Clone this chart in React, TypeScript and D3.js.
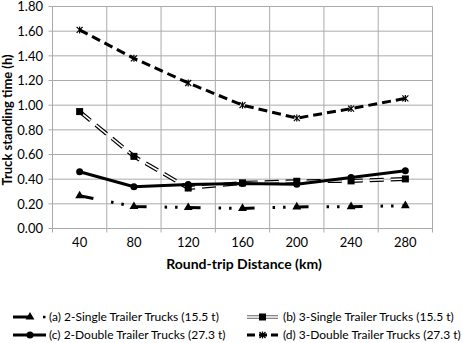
import React from "react";
import * as d3 from "d3";

const categories = ["40", "80", "120", "160", "200", "240", "280"];
const seriesA = [0.265, 0.178, 0.17, 0.163, 0.175, 0.177, 0.185];
const seriesB = [0.948, 0.585, 0.328, 0.37, 0.383, 0.386, 0.402];
const seriesC = [0.46, 0.338, 0.357, 0.365, 0.358, 0.413, 0.468];
const seriesD = [1.61, 1.38, 1.18, 1.0, 0.895, 0.972, 1.055];
const yTicks = [0, 0.2, 0.4, 0.6, 0.8, 1.0, 1.2, 1.4, 1.6, 1.8];
const legendLabels = [
  "(a) 2-Single Trailer Trucks (15.5 t)",
  "(b) 3-Single Trailer Trucks (15.5 t)",
  "(c) 2-Double Trailer Trucks (27.3 t)",
  "(d) 3-Double Trailer Trucks (27.3 t)",
];

const FONT = "Lato, 'Open Sans', sans-serif";
const GRID = "#aaaaaa";

function Marker({ kind, x, y }: { kind: string; x: number; y: number }) {
  if (kind === "tri")
    return <path d={d3.symbol(d3.symbolTriangle, 34)()!} transform={`translate(${x},${y})`} fill="#000" />;
  if (kind === "sq") return <rect x={x - 3.5} y={y - 3.5} width={7} height={7} fill="#000" />;
  if (kind === "circ") return <circle cx={x} cy={y} r={3.5} fill="#000" />;
  return (
    <g stroke="#000" strokeWidth={1.2}>
      <line x1={x - 3} y1={y - 3} x2={x + 3} y2={y + 3} />
      <line x1={x - 3} y1={y + 3} x2={x + 3} y2={y - 3} />
      <line x1={x} y1={y - 3.5} x2={x} y2={y + 3.5} />
    </g>
  );
}

export default function App() {
  const W = 463, H = 343;
  const x = d3.scaleBand().domain(categories).range([52.5, 432.5]).padding(0);
  const y = d3.scaleLinear().domain([0, 1.8]).range([228.5, 6.5]);
  const cx = (c: string) => (x(c) as number) + x.bandwidth() / 2;
  const line = d3.line<number>().x((_, i) => cx(categories[i])).y((d) => y(d));
  const r1 = 317, r2 = 335;

  return (
    <svg width={W} height={H} style={{ position: "absolute", left: 0, top: 0, background: "#fff" }} fontFamily={FONT}>
      {/* grid */}
      {yTicks.map((t) => (
        <line key={t} x1={48.5} x2={432.5} y1={y(t)} y2={y(t)} stroke={GRID} strokeWidth={1} />
      ))}
      {categories.map((c) => (
        <line key={c} x1={x(c)} x2={x(c)} y1={y(1.8)} y2={y(0) + 4} stroke={GRID} strokeWidth={1} />
      ))}
      <line x1={432.5} x2={432.5} y1={y(1.8)} y2={y(0) + 4} stroke={GRID} strokeWidth={1} />
      {/* y labels */}
      {yTicks.map((t) => (
        <text key={t} x={43} y={y(t)} dy="0.36em" textAnchor="end" fontSize={13} fill="#000">
          {t.toFixed(2)}
        </text>
      ))}
      {categories.map((c) => (
        <text key={c} x={cx(c)} y={247} textAnchor="middle" fontSize={13} fill="#000">
          {c}
        </text>
      ))}
      <text x={244} y={269} textAnchor="middle" fontSize={14} fontWeight="bold" fill="#000">
        Round-trip Distance (km)
      </text>
      <text transform={`translate(12,${y(0.88)}) rotate(-90)`} textAnchor="middle" fontSize={13} fontWeight="bold" fill="#000">
        Truck standing time  (h)
      </text>

      {/* series D */}
      <path d={line(seriesD)!} fill="none" stroke="#000" strokeWidth={3} strokeDasharray="9 5" />
      {seriesD.map((v, i) => <Marker key={i} kind="x" x={cx(categories[i])} y={y(v)} />)}
      {/* series B double line */}
      <path d={line(seriesB)!} fill="none" stroke="#000" strokeWidth={4} strokeDasharray="14 7" />
      <path d={line(seriesB)!} fill="none" stroke="#fff" strokeWidth={1.6} strokeDasharray="14 7" />
      {seriesB.map((v, i) => <Marker key={i} kind="sq" x={cx(categories[i])} y={y(v)} />)}
      {/* series C */}
      <path d={line(seriesC)!} fill="none" stroke="#000" strokeWidth={3} />
      {seriesC.map((v, i) => <Marker key={i} kind="circ" x={cx(categories[i])} y={y(v)} />)}
      {/* series A */}
      <path d={line(seriesA)!} fill="none" stroke="#000" strokeWidth={3} strokeDasharray="14 18 2.5 8 2.5 9" />
      {seriesA.map((v, i) => <Marker key={i} kind="tri" x={cx(categories[i])} y={y(v)} />)}

      {/* legend */}
      <g>
        <line x1={13} x2={31} y1={r1} y2={r1} stroke="#000" strokeWidth={3} />
        <Marker kind="tri" x={30} y={r1} />
        <rect x={43} y={r1 - 1.2} width={2.5} height={2.5} fill="#000" />
        <text x={49} y={r1} dy="0.36em" fontSize={12} fill="#000">{legendLabels[0]}</text>

        <line x1={247} x2={278} y1={r1} y2={r1} stroke="#888" strokeWidth={4} />
        <line x1={247} x2={278} y1={r1} y2={r1} stroke="#fff" strokeWidth={1.4} />
        <Marker kind="sq" x={262.5} y={r1} />
        <text x={283} y={r1} dy="0.36em" fontSize={12} fill="#000">{legendLabels[1]}</text>

        <line x1={13} x2={46} y1={r2} y2={r2} stroke="#000" strokeWidth={3} />
        <Marker kind="circ" x={30} y={r2} />
        <text x={49} y={r2} dy="0.36em" fontSize={12} fill="#000">{legendLabels[2]}</text>

        <line x1={247} x2={278} y1={r2} y2={r2} stroke="#000" strokeWidth={3} strokeDasharray="8 4" />
        <Marker kind="x" x={262.5} y={r2} />
        <text x={283} y={r2} dy="0.36em" fontSize={12} fill="#000">{legendLabels[3]}</text>
      </g>
    </svg>
  );
}
